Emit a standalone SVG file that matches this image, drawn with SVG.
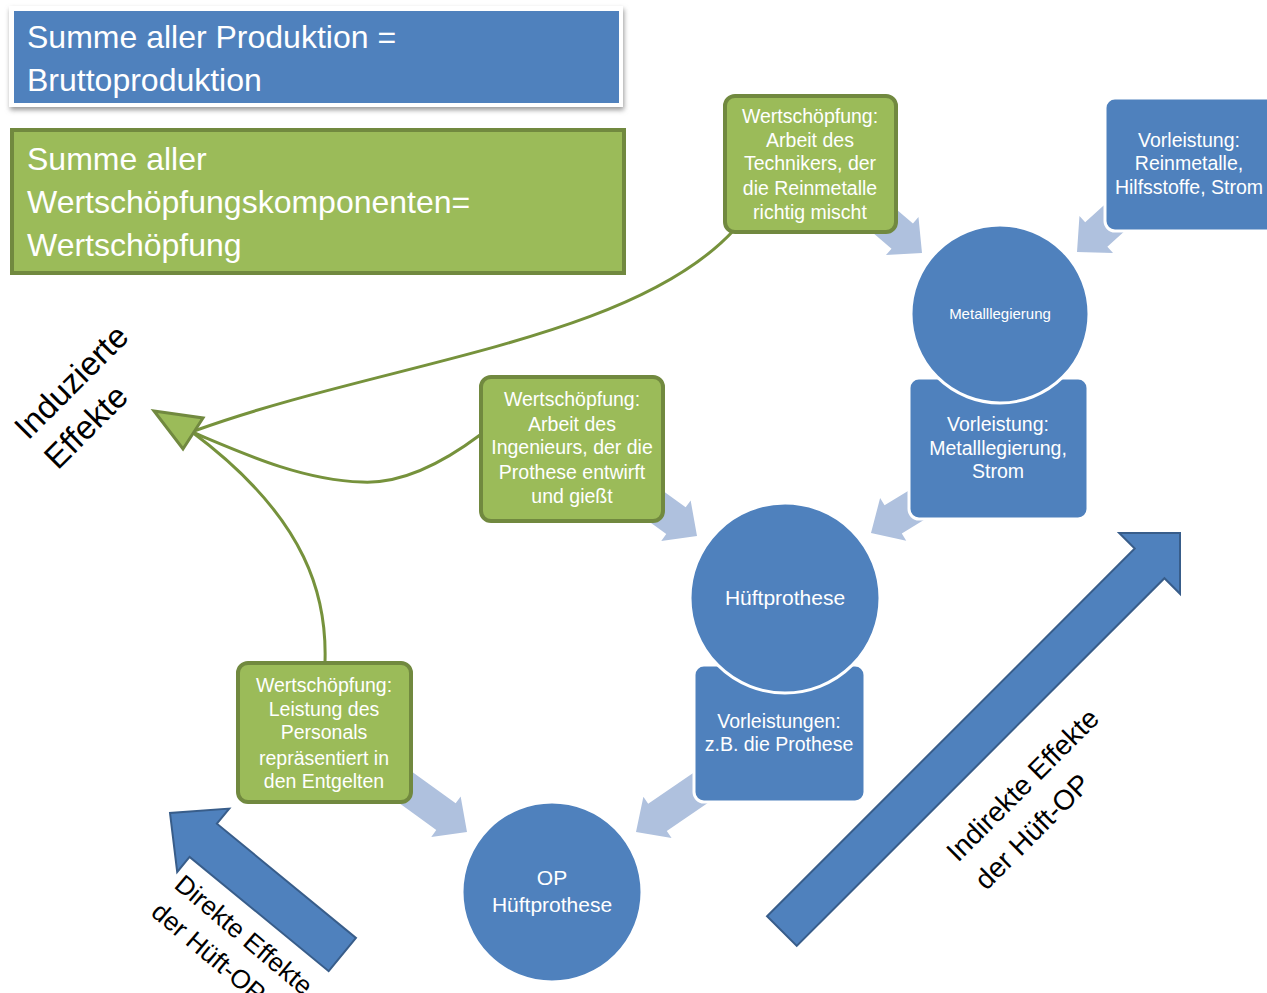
<svg xmlns="http://www.w3.org/2000/svg" width="1267" height="993" viewBox="0 0 1267 993">
<defs>
<style>
.t{font-family:"Liberation Sans",Arial,sans-serif;fill:#fff}
.s{font-size:19.5px;text-anchor:middle}
.big{font-size:32px}
.lbl{font-family:"Liberation Sans",Arial,sans-serif;fill:#000}
.gb{fill:#9bbb59;stroke:#71893f;stroke-width:4}
.bb{fill:#4f81bd;stroke:#fff;stroke-width:3}
.cv{fill:none;stroke:#76923c;stroke-width:3}
.la{fill:#afc1de}
.ba{fill:#4f81bd;stroke:#385d8a;stroke-width:2}
</style>
<path id="lar" class="la" d="M0,0 L-26,-25 L-26,-16.5 L-80,-16.5 L-80,16.5 L-26,16.5 L-26,25 Z"/>
<filter id="sh" x="-5%" y="-20%" width="110%" height="150%">
<feGaussianBlur stdDeviation="2.5"/>
</filter>
</defs>
<rect width="1267" height="993" fill="#fff"/>

<g id="connectors">
<use href="#lar" transform="translate(922,253) rotate(40.5)"/>
<use href="#lar" transform="translate(1077,252) rotate(137.8)"/>
<use href="#lar" transform="translate(871,533) rotate(148.5)"/>
<use href="#lar" transform="translate(697,536) rotate(36)"/>
<use href="#lar" transform="translate(467,832) rotate(36)"/>
<use href="#lar" transform="translate(636,832) rotate(145.7)"/>
<path class="cv" d="M734,230 C632,341 384,362 194,431"/>
<path class="cv" d="M480,435 C440,465 400,484 362,482 C300,480 240,452 192,432"/>
<path class="cv" d="M325,662 C327,600 310,520 192,432"/>
<polygon points="154,411 203,418 183,449" fill="#9bbb59" stroke="#71893f" stroke-width="3" stroke-linejoin="miter"/>
</g>

<g id="title-brutto">
<rect x="10" y="9" width="614" height="101" fill="#999" filter="url(#sh)"/>
<rect x="9" y="6" width="614" height="101" fill="#fff"/>
<rect x="14" y="11" width="605" height="92" fill="#4f81bd"/>
<text class="t big" x="27" y="48">Summe aller Produktion =</text>
<text class="t big" x="27" y="91">Bruttoproduktion</text>
</g>

<g id="title-wert">
<rect x="12" y="130" width="612" height="143" class="gb"/>
<text class="t big" x="27" y="170">Summe aller</text>
<text class="t big" x="27" y="213">Wertschöpfungskomponenten=</text>
<text class="t big" x="27" y="256">Wertschöpfung</text>
</g>

<g id="ws-techniker">
<rect x="725" y="96" width="171" height="136" rx="10" class="gb"/>
<text class="t s" x="810" y="123">Wertschöpfung:</text>
<text class="t s" x="810" y="147">Arbeit des</text>
<text class="t s" x="810" y="170">Technikers, der</text>
<text class="t s" x="810" y="195">die Reinmetalle</text>
<text class="t s" x="810" y="219">richtig mischt</text>
</g>

<g id="vl-reinmetalle">
<rect x="1105" y="98" width="180" height="133" rx="10" class="bb"/>
<text class="t s" x="1189" y="147">Vorleistung:</text>
<text class="t s" x="1189" y="170">Reinmetalle,</text>
<text class="t s" x="1189" y="194">Hilfsstoffe, Strom</text>
</g>

<g id="vl-metalllegierung">
<rect x="909" y="378" width="179" height="141" rx="10" class="bb"/>
<text class="t s" x="998" y="431">Vorleistung:</text>
<text class="t s" x="998" y="455">Metalllegierung,</text>
<text class="t s" x="998" y="478">Strom</text>
</g>

<g id="metalllegierung">
<circle cx="1000" cy="314" r="89" class="bb"/>
<text class="t" x="1000" y="319" font-size="15" text-anchor="middle">Metalllegierung</text>
</g>

<g id="ws-ingenieur">
<rect x="481" y="377" width="182" height="144" rx="10" class="gb"/>
<text class="t s" x="572" y="406">Wertschöpfung:</text>
<text class="t s" x="572" y="431">Arbeit des</text>
<text class="t s" x="572" y="454">Ingenieurs, der die</text>
<text class="t s" x="572" y="479">Prothese entwirft</text>
<text class="t s" x="572" y="503">und gießt</text>
</g>

<g id="vl-prothese">
<rect x="694" y="665" width="171" height="137" rx="10" class="bb"/>
<text class="t s" x="779" y="728">Vorleistungen:</text>
<text class="t s" x="779" y="751">z.B. die Prothese</text>
</g>

<g id="hueftprothese">
<circle cx="785" cy="598" r="95" class="bb"/>
<text class="t" x="785" y="605" font-size="21" text-anchor="middle">Hüftprothese</text>
</g>

<g id="ws-personal">
<rect x="238" y="663" width="173" height="139" rx="10" class="gb"/>
<text class="t s" x="324" y="692">Wertschöpfung:</text>
<text class="t s" x="324" y="716">Leistung des</text>
<text class="t s" x="324" y="739">Personals</text>
<text class="t s" x="324" y="765">repräsentiert in</text>
<text class="t s" x="324" y="788">den Entgelten</text>
</g>

<g id="op-hueftprothese">
<circle cx="552" cy="892" r="90" class="bb"/>
<text class="t" x="552" y="885" font-size="21" text-anchor="middle">OP</text>
<text class="t" x="552" y="912" font-size="21" text-anchor="middle">Hüftprothese</text>
</g>

<g id="indirekte-effekte">
<polygon class="ba" transform="translate(1180,533) rotate(-45)" points="0,0 -43,-43 -43,-21 -563,-21 -563,21 -43,21 -43,43"/>
<g transform="translate(958,863) rotate(-45)">
<text class="lbl" x="0" y="0" font-size="28">Indirekte Effekte</text>
<text class="lbl" x="0" y="40" font-size="28">der Hüft-OP</text>
</g>
</g>

<g id="direkte-effekte">
<polygon class="ba" transform="translate(170,813) rotate(219.4)" points="0,0 -43,-41 -43,-21.5 -223,-21.5 -223,21.5 -43,21.5 -43,41"/>
<g transform="translate(173,887) rotate(40)">
<text class="lbl" x="0" y="0" font-size="26">Direkte Effekte</text>
<text class="lbl" x="0" y="36" font-size="26">der Hüft-OP</text>
</g>
</g>

<g id="induzierte-effekte">
<g transform="translate(28,441) rotate(-45)">
<text class="lbl" x="0" y="0" font-size="33">Induzierte</text>
<text class="lbl" x="0" y="42" font-size="33">Effekte</text>
</g>
</g>
</svg>
